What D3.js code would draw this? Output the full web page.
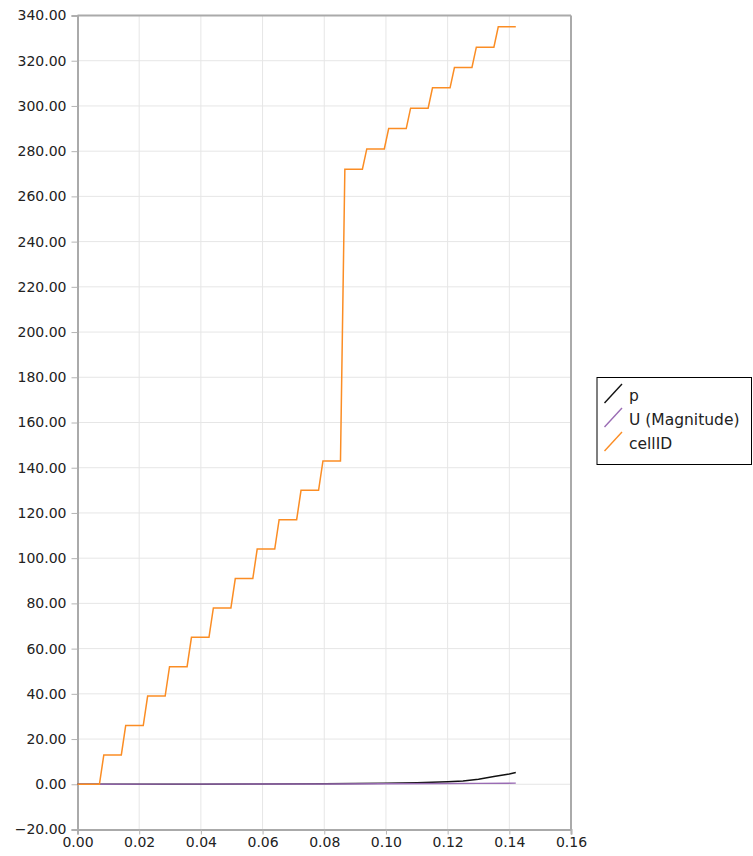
<!DOCTYPE html>
<html><head><meta charset="utf-8">
<script src="https://cdn.jsdelivr.net/npm/d3@7/dist/d3.min.js"></script>
<style>body{margin:0;background:#fff;}svg{display:block;}</style>
</head><body>
<script>
// cellID sampled along the line: x positions and values (steps between cells)
const cellX = [0, 0.00711, 0.00853, 0.01421, 0.01563, 0.02132, 0.02274, 0.02842, 0.02984, 0.03553, 0.03695,
               0.04263, 0.04405, 0.04974, 0.05116, 0.05684, 0.05826, 0.06395, 0.06537, 0.07105, 0.07247,
               0.07816, 0.07958, 0.08526, 0.08668, 0.09237, 0.09379, 0.09947, 0.10089, 0.10658, 0.10800,
               0.11368, 0.11510, 0.12079, 0.12221, 0.12789, 0.12931, 0.13500, 0.13642, 0.1421];
const cellY = [0, 0, 13, 13, 26, 26, 39, 39, 52, 52, 65,
               65, 78, 78, 91, 91, 104, 104, 117, 117, 130,
               130, 143, 143, 272, 272, 281, 281, 290, 290, 299,
               299, 308, 308, 317, 317, 326, 326, 335, 335];
// p
const pX = [0, 0.02, 0.04, 0.06, 0.08, 0.09, 0.10, 0.11, 0.115, 0.12, 0.125, 0.13, 0.135, 0.14, 0.1421];
const pY = [0, 0.02, 0.05, 0.1, 0.2, 0.3, 0.45, 0.65, 0.85, 1.1, 1.5, 2.2, 3.4, 4.5, 5.2];
// U (Magnitude)
const uX = [0, 0.03, 0.06, 0.08, 0.10, 0.12, 0.13, 0.1421];
const uY = [0, 0.05, 0.1, 0.15, 0.25, 0.35, 0.4, 0.5];
const xTicks = [0, 0.02, 0.04, 0.06, 0.08, 0.10, 0.12, 0.14, 0.16];
const yTicks = [-20, 0, 20, 40, 60, 80, 100, 120, 140, 160, 180, 200, 220, 240, 260, 280, 300, 320, 340];
const seriesNames = ["p", "U (Magnitude)", "cellID"];
const seriesColors = ["#111111", "#9a6cb4", "#fb8d24"];

const W = 753, H = 856;
const m = {left: 77.5, right: 571, top: 15.5, bottom: 829.5};
const svg = d3.select("body").append("svg").attr("width", W).attr("height", H)
  .style("font-family", "'DejaVu Sans', sans-serif");

const x = d3.scaleLinear().domain([0, 0.16]).range([m.left, m.right]);
const y = d3.scaleLinear().domain([-20, 340]).range([m.bottom, m.top]);

// grid
svg.append("g").selectAll("line").data(xTicks.slice(1, -1)).join("line")
  .attr("x1", d => x(d)).attr("x2", d => x(d)).attr("y1", m.top).attr("y2", m.bottom)
  .attr("stroke", "#e6e6e6").attr("stroke-width", 1);
svg.append("g").selectAll("line").data(yTicks.slice(1, -1)).join("line")
  .attr("y1", d => y(d)).attr("y2", d => y(d)).attr("x1", m.left).attr("x2", m.right)
  .attr("stroke", "#e6e6e6").attr("stroke-width", 1);

// axes
const xAxis = svg.append("g").attr("transform", `translate(0,${m.bottom})`)
  .call(d3.axisBottom(x).tickValues(xTicks).tickFormat(d3.format(".2f")).tickSize(5).tickPadding(3));
const yAxis = svg.append("g").attr("transform", `translate(${m.left},0)`)
  .call(d3.axisLeft(y).tickValues(yTicks).tickFormat(d3.format(".2f")).tickSize(6).tickPadding(5));
[xAxis, yAxis].forEach(a => {
  a.select(".domain").attr("stroke", "#aaaaaa").attr("stroke-width", 2);
  a.selectAll(".tick line").attr("stroke", "#b4b4b4");
  a.selectAll("text").attr("fill", "#222").style("font-size", "14px").style("font-family", "'DejaVu Sans', sans-serif");
});
// top and right border
svg.append("line").attr("x1", m.left).attr("x2", m.right).attr("y1", m.top).attr("y2", m.top)
  .attr("stroke", "#aaaaaa").attr("stroke-width", 2);
svg.append("line").attr("x1", m.right).attr("x2", m.right).attr("y1", m.top).attr("y2", m.bottom)
  .attr("stroke", "#aaaaaa").attr("stroke-width", 2);

const line = d3.line().x(d => x(d[0])).y(d => y(d[1]));

svg.append("path").datum(d3.zip(pX, pY)).attr("d", line)
  .attr("fill", "none").attr("stroke", seriesColors[0]).attr("stroke-width", 1.5);
svg.append("path").datum(d3.zip(uX, uY)).attr("d", line)
  .attr("fill", "none").attr("stroke", seriesColors[1]).attr("stroke-width", 1.4);
svg.append("path").datum(d3.zip(cellX, cellY)).attr("d", line)
  .attr("fill", "none").attr("stroke", seriesColors[2]).attr("stroke-width", 1.5);

// legend
const lg = svg.append("g").attr("transform", "translate(597,377)");
lg.append("rect").attr("x", 0).attr("y", 0.5).attr("width", 154.5).attr("height", 87).attr("fill", "#fff")
  .attr("stroke", "#000").attr("stroke-width", 1);
seriesNames.forEach((n, i) => {
  const base = 24 + i * 24;
  lg.append("line").attr("x1", 7.5).attr("y1", base + 2).attr("x2", 25).attr("y2", base - 17)
    .attr("stroke", seriesColors[i]).attr("stroke-width", 1.4);
  lg.append("text").attr("x", 32).attr("y", base).text(n)
    .attr("fill", "#222").style("font-size", "15.5px");
});
</script>
</body></html>
